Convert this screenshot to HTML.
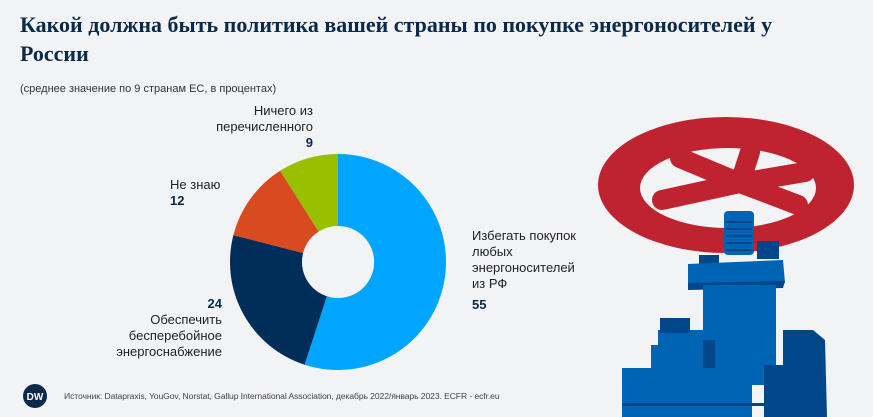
<!DOCTYPE html>
<html><head><meta charset="utf-8"><style>
body{margin:0;width:873px;height:417px;background:#f2f3f5;overflow:hidden;font-family:"Liberation Sans",sans-serif;position:relative}
.t{position:absolute;left:20px;top:10px;font-family:"Liberation Serif",serif;font-weight:bold;font-size:22px;line-height:29px;color:#0b2a4a;width:800px}
.s{position:absolute;left:20px;top:83px;font-size:11px;color:#333}
.l{position:absolute;font-size:13px;line-height:16px;color:#222}
.n{font-weight:bold;color:#0b2a4a}
</style></head><body>
<div class="t">Какой должна быть политика вашей страны по покупке энергоносителей у России</div>
<div class="s">(среднее значение по 9 странам ЕС, в процентах)</div>
<svg width="873" height="417" style="position:absolute;left:0;top:0">
<path d="M338,154 A108,108 0 1 1 304.6,364.7 L326.9,296.2 A36,36 0 1 0 338,226Z" fill="#00a5ff"/>
<path d="M304.6,364.7 A108,108 0 0 1 233.4,235.1 L303.1,253 A36,36 0 0 0 326.9,296.2Z" fill="#002d5a"/>
<path d="M233.4,235.1 A108,108 0 0 1 280.1,170.8 L318.7,231.6 A36,36 0 0 0 303.1,253Z" fill="#d84a1f"/>
<path d="M280.1,170.8 A108,108 0 0 1 338,154 L338,226 A36,36 0 0 0 318.7,231.6Z" fill="#99c000"/>
<g>
<ellipse cx="726" cy="185" rx="128" ry="68" fill="#bf2330"/>
<ellipse cx="728" cy="188" rx="88" ry="40" fill="#f2f3f5"/>
<g stroke="#bf2330" stroke-width="20" stroke-linecap="round">
<line x1="740" y1="183" x2="680" y2="158"/>
<line x1="740" y1="183" x2="662" y2="200"/>
<line x1="740" y1="183" x2="798" y2="205"/>
<line x1="740" y1="183" x2="805" y2="172"/>
<line x1="740" y1="183" x2="750" y2="152"/>
</g>
<rect x="724" y="211" width="30" height="44" rx="4" fill="#0064b4"/>
<g stroke="#00478a" stroke-width="2"><line x1="726" y1="222" x2="752" y2="222"/><line x1="726" y1="229" x2="752" y2="229"/><line x1="726" y1="236" x2="752" y2="236"/><line x1="726" y1="243" x2="752" y2="243"/><line x1="726" y1="250" x2="752" y2="250"/></g>
<rect x="757" y="241" width="22" height="18" fill="#00478a"/>
<rect x="699" y="255" width="20" height="10" fill="#00478a"/>
<polygon points="688,264 783,260 785,283 688,285" fill="#0064b4"/>
<polygon points="688,283 785,281 783,288 688,290" fill="#00478a"/>
<rect x="703" y="285" width="73" height="100" fill="#0064b4"/>
<rect x="658" y="330" width="60" height="90" fill="#0064b4"/>
<rect x="660" y="318" width="30" height="15" fill="#00478a"/>
<rect x="651" y="345" width="30" height="45" fill="#0064b4"/>
<rect x="703" y="340" width="12" height="45" fill="#00478a"/>
<rect x="622" y="368" width="130" height="49" fill="#0064b4"/>
<polygon points="783,330 813,330 825,340 827,417 764,417 764,365 783,365" fill="#00478a"/>
<rect x="622" y="403" width="150" height="3" fill="#00478a"/>
</g>
<circle cx="35" cy="396" r="12" fill="#0b2a4a"/>
<text x="35" y="400" font-size="10" font-weight="bold" fill="#fff" text-anchor="middle" font-family="Liberation Sans">DW</text>
</svg>
<div class="l" style="left:206px;top:103px;text-align:right;width:107px">Ничего из<br>перечисленного<br><span class="n">9</span></div>
<div class="l" style="left:170px;top:177px">Не знаю<br><span class="n">12</span></div>
<div class="l" style="left:108px;top:296px;text-align:right;width:114px"><span class="n">24</span><br>Обеспечить<br>бесперебойное<br>энергоснабжение</div>
<div class="l" style="left:472px;top:228px">Избегать покупок<br>любых<br>энергоносителей<br>из РФ<br><span class="n" style="line-height:26px">55</span></div>
<div style="position:absolute;left:64px;top:391px;font-size:8.6px;letter-spacing:-0.1px;color:#444">Источник: Datapraxis, YouGov, Norstat, Gallup International Association, декабрь 2022/январь 2023. ECFR - ecfr.eu</div>
</body></html>
